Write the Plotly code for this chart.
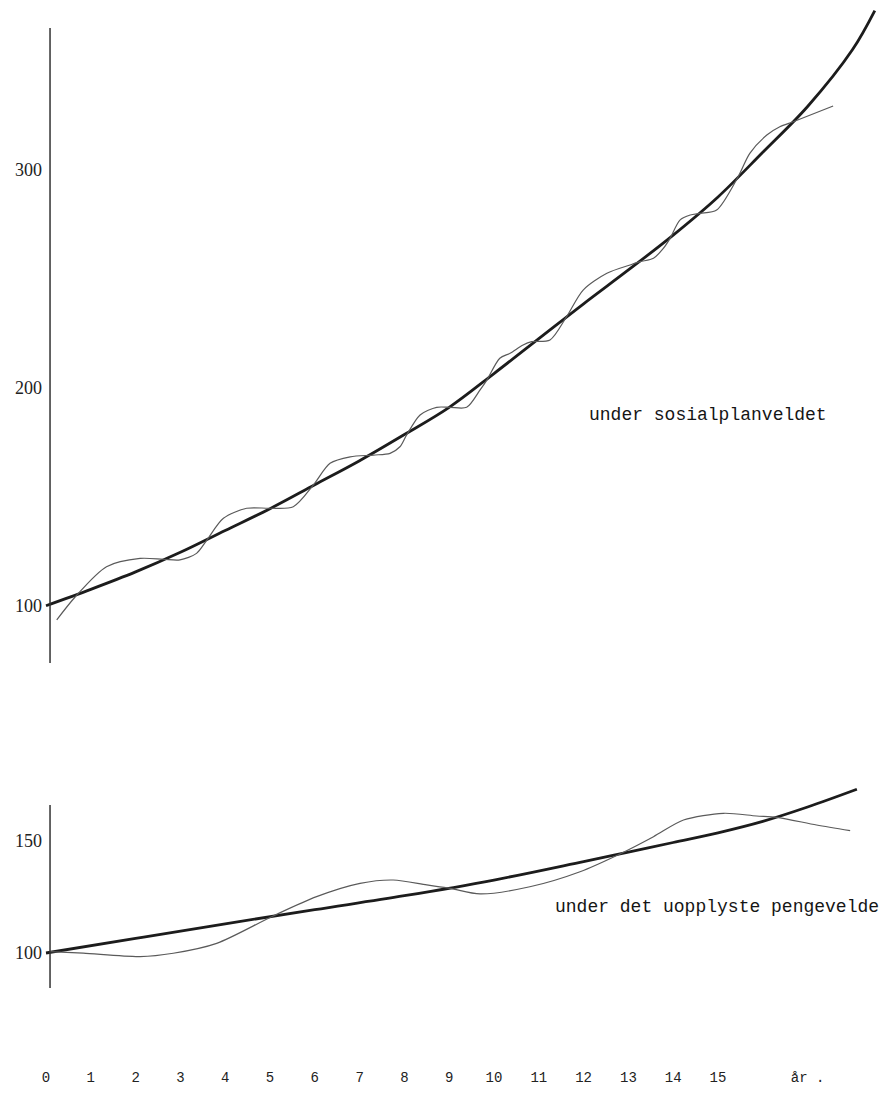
import plotly.graph_objects as go

# ---- data ----
# upper panel: "under sosialplanveldet"
top_smooth_years = [0, 1, 2, 3, 4, 5, 6, 7, 8, 9, 10, 11, 12, 13, 14, 15, 16, 17, 18, 18.5]
top_smooth_vals = [100, 107.5, 115.5, 124.5, 134.5, 144.5, 155.5, 166.5, 178.5, 191, 206.5,
                   222.5, 238.5, 254, 270, 287.5, 308, 329, 355, 373]

top_wave_years = [0.24, 0.65, 1.35, 2.10, 2.62, 2.99, 3.36, 3.59, 3.96, 4.48, 5.0, 5.52, 5.97,
                  6.34, 6.79, 7.31, 7.68, 7.9, 8.05, 8.35, 8.72, 9.02, 9.39, 9.69, 9.84, 10.13,
                  10.36, 10.65, 10.84, 11.25, 11.62, 11.99, 12.52, 13.04, 13.26, 13.56, 13.78,
                  13.93, 14.15, 14.38, 14.6, 14.97, 15.45, 15.71, 16.09, 16.38, 16.68, 17.57]
top_wave_vals = [93.5, 104, 117.9, 121.7, 121.3, 121.0, 124.0, 130.1, 140.1, 144.7, 144.7, 145.4,
                 155.4, 165.3, 168.3, 169.1, 169.9, 172.9, 178.3, 187.5, 191, 191, 191, 199,
                 203.5, 213.5, 215.8, 219.6, 221.1, 221.9, 232.6, 244.8, 252.5, 256.3, 257.8,
                 259.4, 263.9, 268.5, 276.9, 279.2, 280.0, 281.5, 296.8, 307.5, 315.9, 319.7,
                 322, 329.2]

# lower panel: "under det uopplyste pengevelde"
bot_smooth_years = [0, 2, 4, 6, 8, 10, 12, 13, 14, 15, 16, 17, 18.1]
bot_smooth_vals = [100, 106.5, 113, 119.3, 125.5, 132.5, 140.7, 144.9, 149.2, 153.5, 158.6, 165, 172.9]

bot_wave_years = [0.09, 0.83, 2.10, 2.84, 3.81, 5.07, 6.04, 7.01, 7.75, 8.50, 9.02, 9.69, 10.80,
                  11.92, 12.81, 13.56, 14.23, 15.12, 15.86, 16.31, 17.20, 17.95]
bot_wave_vals = [100.6, 99.9, 98.4, 99.9, 104.3, 116.5, 125.1, 131.0, 132.5, 130.3, 128.8, 126.3,
                 129.5, 136.2, 144.1, 151.8, 159.2, 162.2, 161.0, 160.4, 157.0, 154.5]

x_tick_vals = list(range(16)) + [17]
x_tick_text = [str(i) for i in range(16)] + ["år ."]
top_tick_vals = [100, 200, 300]
bot_tick_vals = [100, 150]
top_axis_extent = [73.7, 365.0]
bot_axis_extent = [84.4, 165.9]

label_top = "under sosialplanveldet"
label_bot = "under det uopplyste pengevelde"

# the page body has an 8px margin, so the figure is drawn 8px right/down of the window corner
W, H = 885, 1102
SMOOTH = dict(color="#1c1c1c", width=2.8)
WAVE = dict(color="#5a5a5a", width=1.2)

fig = go.Figure()
fig.add_trace(go.Scatter(x=top_smooth_years, y=top_smooth_vals, mode="lines",
                         line=dict(**SMOOTH, shape="spline"), xaxis="x", yaxis="y"))
fig.add_trace(go.Scatter(x=top_wave_years, y=top_wave_vals, mode="lines",
                         line=dict(**WAVE, shape="spline", smoothing=0.8), xaxis="x", yaxis="y"))
fig.add_trace(go.Scatter(x=bot_smooth_years, y=bot_smooth_vals, mode="lines",
                         line=dict(**SMOOTH, shape="spline"), xaxis="x", yaxis="y2"))
fig.add_trace(go.Scatter(x=bot_wave_years, y=bot_wave_vals, mode="lines",
                         line=dict(**WAVE, shape="spline", smoothing=0.8), xaxis="x", yaxis="y2"))

# vertical axis lines, drawn in data coordinates
fig.add_shape(type="line", xref="x", yref="y", x0=0.09, x1=0.09,
              y0=top_axis_extent[0], y1=top_axis_extent[1], line=dict(color="#333", width=1.5))
fig.add_shape(type="line", xref="x", yref="y2", x0=0.09, x1=0.09,
              y0=bot_axis_extent[0], y1=bot_axis_extent[1], line=dict(color="#333", width=1.5))

# figure px -> year mapping: px = 38 + 44.8*year
x_range = [(0 - 38) / 44.8, (W - 38) / 44.8]
# upper: fig_py = 379.7 - 2.18*(v-200)
top_dom = [1 - 662 / H, 1]
top_range = [200 + (379.7 - 662) / 2.18, 200 + 379.7 / 2.18]
# lower: fig_py = 945 - 2.246*(v-100)
bot_dom = [1 - 992 / H, 1 - 772 / H]
bot_range = [100 + (945 - 992) / 2.246, 100 + (945 - 772) / 2.246]

serif = dict(family="Liberation Serif", size=18, color="#222")
mono = dict(family="Liberation Mono", size=14, color="#222")

fig.update_layout(
    width=W, height=H, margin=dict(l=0, r=0, t=0, b=0),
    paper_bgcolor="white", plot_bgcolor="rgba(0,0,0,0)", showlegend=False,
    xaxis=dict(domain=[0, 1], range=x_range, anchor="free", position=1 - 1059 / H,
               tickvals=x_tick_vals, ticktext=x_tick_text, tickfont=mono, ticks="",
               showline=False, showgrid=False, zeroline=False),
    yaxis=dict(domain=top_dom, range=top_range, anchor="free", position=42 / W,
               tickvals=top_tick_vals, tickfont=serif, ticks="", ticklabelstandoff=8,
               showline=False, showgrid=False, zeroline=False),
    yaxis2=dict(domain=bot_dom, range=bot_range, anchor="free", position=42 / W,
                tickvals=bot_tick_vals, tickfont=serif, ticks="", ticklabelstandoff=8,
                showline=False, showgrid=False, zeroline=False),
)

fig.add_annotation(text=label_top, xref="paper", yref="paper", x=700 / W, y=1 - 407 / H,
                   xanchor="center", yanchor="middle", showarrow=False,
                   font=dict(family="Liberation Mono", size=18, color="#151515"))
fig.add_annotation(text=label_bot, xref="paper", yref="paper", x=709 / W, y=1 - 899 / H,
                   xanchor="center", yanchor="middle", showarrow=False,
                   font=dict(family="Liberation Mono", size=18, color="#151515"))

fig.write_html("out.html")
